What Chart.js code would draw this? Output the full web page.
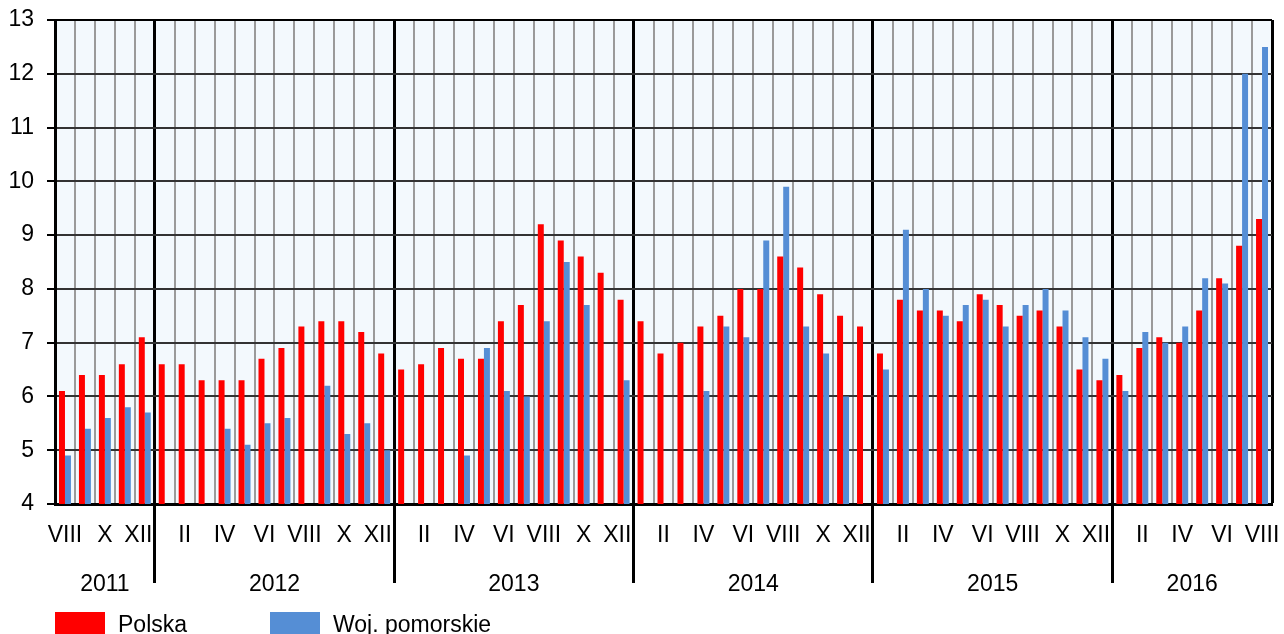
<!DOCTYPE html>
<html>
<head>
<meta charset="utf-8">
<script src="https://cdn.jsdelivr.net/npm/chart.js@4.4.1/dist/chart.umd.min.js"></script>
<style>
  html, body { margin: 0; padding: 0; background: #fff; overflow: hidden; }
  #wrap { position: relative; width: 1284px; height: 634px; }
  #chart { display: block; }
  #legend {
    position: absolute; left: 55px; top: 612px; display: flex;
    font: 23px "Liberation Sans", Arial, sans-serif; line-height: 24px; color: #000;
  }
  .item { display: flex; min-width: 215px; }
  .swatch { width: 50px; height: 24px; margin-right: 13px; }
</style>
</head>
<body>
<div id="wrap">
  <canvas id="chart" width="1284" height="634"></canvas>
  <div id="legend"></div>
</div>
<script>
// months VIII 2011 - VIII 2016
const months = [
  "VIII", "IX", "X", "XI", "XII",
  "I", "II", "III", "IV", "V", "VI", "VII", "VIII", "IX", "X", "XI", "XII",
  "I", "II", "III", "IV", "V", "VI", "VII", "VIII", "IX", "X", "XI", "XII",
  "I", "II", "III", "IV", "V", "VI", "VII", "VIII", "IX", "X", "XI", "XII",
  "I", "II", "III", "IV", "V", "VI", "VII", "VIII", "IX", "X", "XI", "XII",
  "I", "II", "III", "IV", "V", "VI", "VII", "VIII",
];
const labeledMonths = ["II", "IV", "VI", "VIII", "X", "XII"];
const years = ["2011", "2012", "2013", "2014", "2015", "2016"];
const monthsPerYear = [5, 12, 12, 12, 12, 8];

const polska = [
  6.1, 6.4, 6.4, 6.6, 7.1,
  6.6, 6.6, 6.3, 6.3, 6.3, 6.7, 6.9, 7.3, 7.4, 7.4, 7.2, 6.8,
  6.5, 6.6, 6.9, 6.7, 6.7, 7.4, 7.7, 9.2, 8.9, 8.6, 8.3, 7.8,
  7.4, 6.8, 7.0, 7.3, 7.5, 8.0, 8.0, 8.6, 8.4, 7.9, 7.5, 7.3,
  6.8, 7.8, 7.6, 7.6, 7.4, 7.9, 7.7, 7.5, 7.6, 7.3, 6.5, 6.3,
  6.4, 6.9, 7.1, 7.0, 7.6, 8.2, 8.8, 9.3,
];
const pomorskie = [
  4.9, 5.4, 5.6, 5.8, 5.7,
  null, null, null, 5.4, 5.1, 5.5, 5.6, null, 6.2, 5.3, 5.5, 5.0,
  null, null, null, 4.9, 6.9, 6.1, 6.0, 7.4, 8.5, 7.7, null, 6.3,
  null, null, null, 6.1, 7.3, 7.1, 8.9, 9.9, 7.3, 6.8, 6.0, null,
  6.5, 9.1, 8.0, 7.5, 7.7, 7.8, 7.3, 7.7, 8.0, 7.6, 7.1, 6.7,
  6.1, 7.2, 7.0, 7.3, 8.2, 8.1, 12.0, 12.5,
];

// where each year starts and its middle, in month units
const yearStarts = [];
const yearCenters = [];
let acc = 0;
monthsPerYear.forEach((n) => {
  yearStarts.push(acc);
  yearCenters.push(acc + n / 2);
  acc += n;
});
const totalMonths = acc;

const isYearLine = (i) => i === undefined || (i > 0 && yearStarts.includes(i));

Chart.defaults.font.family = '"Liberation Sans", Arial, sans-serif';
Chart.defaults.font.size = 23;
Chart.defaults.color = "#000";

const plotBackground = {
  id: "plotBackground",
  beforeDraw(chart) {
    const { ctx, chartArea: a } = chart;
    ctx.save();
    ctx.fillStyle = "#f3f9fd";
    ctx.fillRect(a.left, a.top, a.right - a.left, a.bottom - a.top);
    ctx.restore();
  },
};

const chart = new Chart(document.getElementById("chart"), {
  type: "bar",
  data: {
    labels: months,
    datasets: [
      { label: "Polska", data: polska, backgroundColor: "#ff0000" },
      { label: "Woj. pomorskie", data: pomorskie, backgroundColor: "#558ed5" },
    ],
  },
  options: {
    responsive: false,
    animation: false,
    layout: { padding: { top: 20, right: 12, bottom: 0, left: 0 } },
    datasets: {
      bar: { categoryPercentage: 0.6, barPercentage: 1.0 },
    },
    plugins: {
      legend: { display: false },
      tooltip: { enabled: false },
    },
    scales: {
      x: {
        grid: {
          color: (c) => (isYearLine(c.index) ? "#000" : "#9a9a9a"),
          lineWidth: (c) => (isYearLine(c.index) ? 3 : 2),
          drawTicks: true,
          tickLength: 79,
          tickWidth: 3,
          tickColor: (c) => (c.index !== undefined && isYearLine(c.index) ? "#000" : "rgba(0,0,0,0)"),
        },
        border: { color: "#000", width: 3 },
        ticks: {
          autoSkip: false,
          maxRotation: 0,
          padding: -61,
          callback: function (value, index) {
            const m = this.getLabelForValue(value);
            if (!labeledMonths.includes(m)) return "";
            // keep the label clear of the year line that follows it
            return isYearLine(index + 1) && index + 1 < totalMonths ? m + "\u00a0\u00a0" : m;
          },
        },
        afterFit: (scale) => {
          scale.height = 60;
          scale.paddingLeft = 0;
          scale.paddingRight = 0;
        },
      },
      x2: {
        type: "linear",
        position: "bottom",
        min: 0,
        max: totalMonths,
        offset: false,
        grid: { display: false },
        border: { display: false },
        afterBuildTicks: (scale) => {
          scale.ticks = yearCenters.map((v) => ({ value: v }));
        },
        ticks: {
          autoSkip: false,
          maxRotation: 0,
          padding: -1,
          callback: (value, index) => years[index],
        },
        afterFit: (scale) => {
          scale.height = 70;
          scale.paddingLeft = 0;
          scale.paddingRight = 0;
        },
      },
      y: {
        min: 4,
        max: 13,
        ticks: { stepSize: 1, padding: 13 },
        grid: {
          color: (c) => (c.tick && c.tick.value === 13 ? "#000" : "#333"),
          lineWidth: 2,
          drawTicks: true,
          tickLength: 8,
          tickColor: "#000",
          tickWidth: 2,
        },
        border: { color: "#000", width: 3 },
        afterFit: (scale) => {
          scale.width = 55;
          scale.paddingTop = 0;
          scale.paddingBottom = 0;
        },
      },
    },
  },
  plugins: [plotBackground],
});

// legend under the chart
const legend = document.getElementById("legend");
chart.data.datasets.forEach((ds) => {
  const item = document.createElement("div");
  item.className = "item";
  const swatch = document.createElement("span");
  swatch.className = "swatch";
  swatch.style.background = ds.backgroundColor;
  const text = document.createElement("span");
  text.textContent = ds.label;
  item.appendChild(swatch);
  item.appendChild(text);
  legend.appendChild(item);
});
</script>
</body>
</html>
